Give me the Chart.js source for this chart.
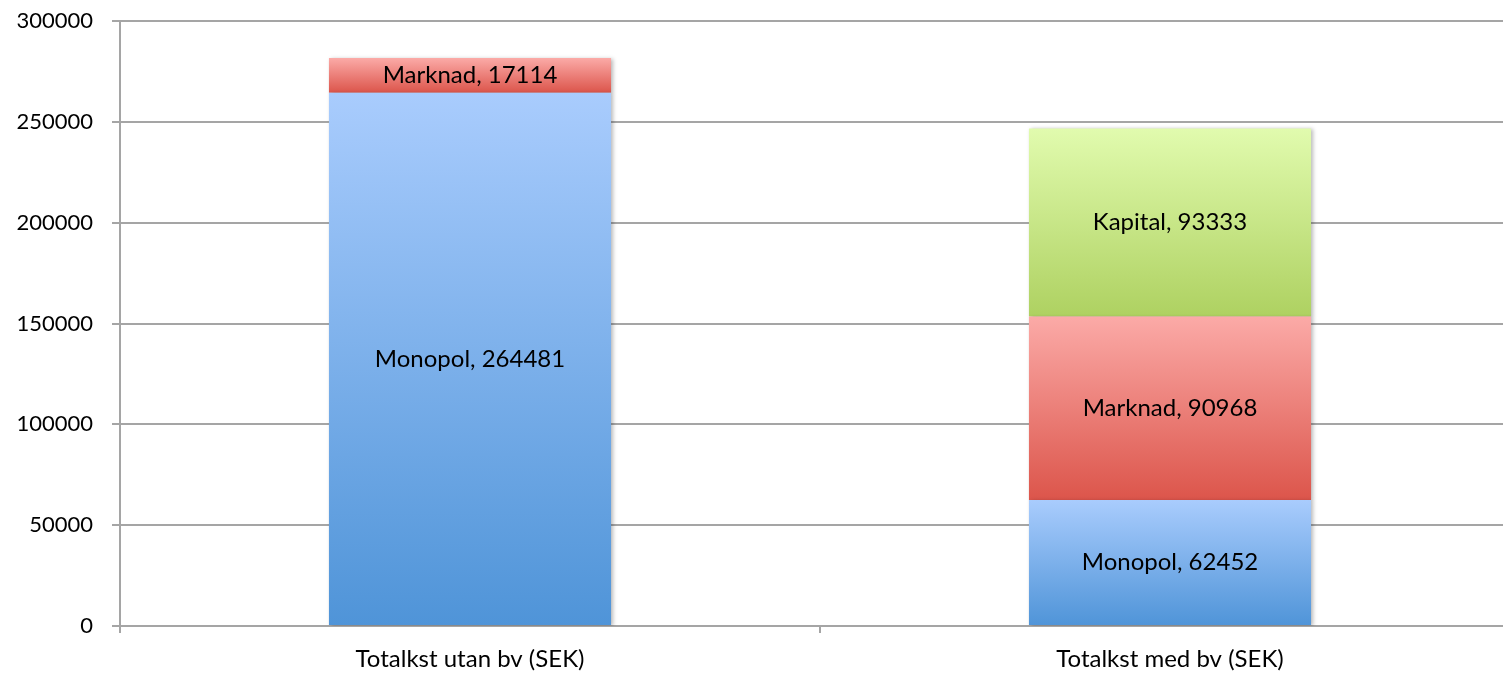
<!DOCTYPE html>
<html lang="sv">
<head>
    <meta charset="UTF-8">
    <title>Totalkostnad</title>
    <script src="https://cdn.jsdelivr.net/npm/chart.js"></script>
    <style>
        body { margin: 0; overflow: hidden; background: #fff; }
    </style>
</head>
<body>
    <canvas id="costChart" width="1520" height="675"></canvas>

    <script>
        // data
        const categories = ["Totalkst utan bv (SEK)", "Totalkst med bv (SEK)"];
        const monopol = [264481, 62452];
        const marknad = [17114, 90968];
        const kapital = [null, 93333];
        const seriesNames = ["Monopol", "Marknad", "Kapital"];
        const yTicks = [0, 50000, 100000, 150000, 200000, 250000, 300000];

        // light top -> dark bottom, per segment
        const gradients = {
            Monopol: ["#a9ccfd", "#4f94d8"],
            Marknad: ["#fbaaa7", "#dc554b"],
            Kapital: ["#e1fbae", "#aed161"]
        };

        const allSeries = [monopol, marknad, kapital];

        function segmentFill(context) {
            const chart = context.chart;
            const y = chart.scales.y;
            const name = seriesNames[context.datasetIndex];
            if (!y || context.type !== "data") return gradients[name][1];
            const i = context.dataIndex;
            let start = 0;
            for (let d = 0; d < context.datasetIndex; d++) start += allSeries[d][i] || 0;
            const end = start + (allSeries[context.datasetIndex][i] || 0);
            const top = y.getPixelForValue(end);
            const bottom = y.getPixelForValue(start);
            if (!isFinite(top) || !isFinite(bottom)) return gradients[name][1];
            const g = chart.ctx.createLinearGradient(0, top, 0, bottom);
            g.addColorStop(0, gradients[name][0]);
            g.addColorStop(1, gradients[name][1]);
            return g;
        }

        const shadowPlugin = {
            id: "barShadow",
            beforeDatasetsDraw(chart) {
                const ctx = chart.ctx;
                ctx.save();
                ctx.shadowColor = "rgba(0,0,0,0.28)";
                ctx.shadowBlur = 4;
                ctx.shadowOffsetX = 2;
                ctx.shadowOffsetY = 1;
            },
            afterDatasetsDraw(chart) {
                chart.ctx.restore();
            }
        };

        const labelPlugin = {
            id: "segmentLabels",
            afterDatasetsDraw(chart) {
                const ctx = chart.ctx;
                ctx.save();
                ctx.font = "24px Lato";
                ctx.fillStyle = "#000";
                ctx.textAlign = "center";
                ctx.textBaseline = "middle";
                chart.data.datasets.forEach((ds, di) => {
                    chart.getDatasetMeta(di).data.forEach((bar, i) => {
                        const v = ds.data[i];
                        if (v == null) return;
                        ctx.fillText(ds.label + ", " + v, bar.x, (bar.y + bar.base) / 2);
                    });
                });
                ctx.restore();
            }
        };

        const ctx = document.getElementById("costChart").getContext("2d");
        new Chart(ctx, {
            type: "bar",
            data: {
                labels: categories,
                datasets: allSeries.map((values, k) => ({
                    label: seriesNames[k],
                    data: values,
                    backgroundColor: segmentFill,
                    borderWidth: 0,
                    barPercentage: 0.403,
                    categoryPercentage: 1
                }))
            },
            options: {
                responsive: false,
                animation: false,
                layout: { padding: { top: 21, left: 0, right: 0, bottom: 0 } },
                plugins: {
                    legend: { display: false },
                    tooltip: { enabled: false }
                },
                scales: {
                    x: {
                        stacked: true,
                        grid: {
                            offset: true,
                            drawOnChartArea: false,
                            drawTicks: true,
                            tickLength: 7,
                            color: "#a5a5a5",
                            lineWidth: 2
                        },
                        border: { color: "#a5a5a5", width: 2 },
                        ticks: {
                            color: "#000",
                            font: { family: "Lato", size: 24 },
                            padding: 12
                        },
                        afterFit(scale) {
                            scale.height = 49;
                            scale.paddingLeft = 0;
                            scale.paddingRight = 0;
                        }
                    },
                    y: {
                        stacked: true,
                        min: 0,
                        max: 300000,
                        afterBuildTicks(scale) {
                            scale.ticks = yTicks.map(v => ({ value: v }));
                        },
                        grid: {
                            color: "#a5a5a5",
                            lineWidth: 2,
                            tickLength: 8
                        },
                        border: { color: "#a5a5a5", width: 2 },
                        ticks: {
                            color: "#000",
                            font: { family: "Lato", size: 22 },
                            padding: 19,
                            callback: v => String(v)
                        },
                        afterFit(scale) {
                            scale.width = 120;
                            scale.paddingTop = 0;
                            scale.paddingBottom = 0;
                        }
                    }
                }
            },
            plugins: [shadowPlugin, labelPlugin]
        });
    </script>
</body>
</html>
